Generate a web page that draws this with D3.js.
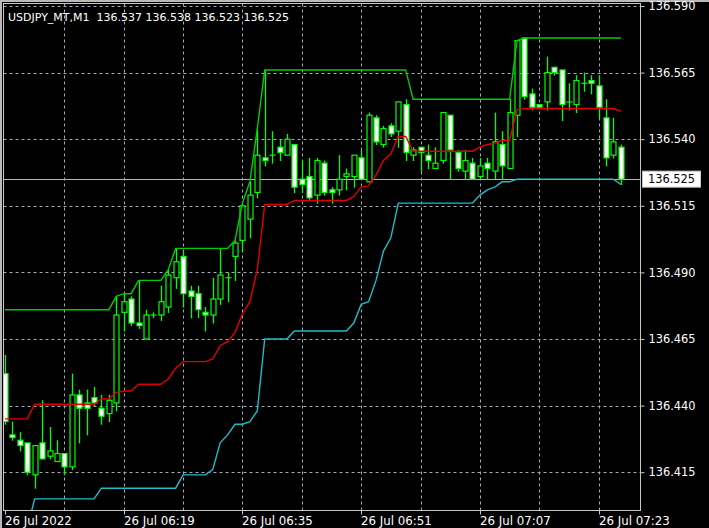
<!DOCTYPE html>
<html><head><meta charset="utf-8">
<script src="https://cdn.jsdelivr.net/npm/d3@7"></script>
<style>html,body{margin:0;padding:0;background:#000;overflow:hidden}svg{display:block}</style>
</head><body><svg id="c" width="709" height="528"></svg>
<script>
// ---------- DATA ----------
const symbolTitle = "USDJPY_MT,M1";
const titleQuote = ["136.537","136.538","136.523","136.525"];
const firstBar = new Date(2022, 6, 26, 6, 3);
const lastBar = new Date(2022, 6, 26, 7, 26);

const opens = [136.452,136.429,136.427,136.426,136.414,136.426,136.421,136.419,136.422,136.417,
136.444,136.441,136.443,136.439,136.437,136.441,136.475,136.480,136.471,136.465,
136.474,136.474,136.477,136.488,136.496,136.483,136.482,136.475,136.474,136.480,
136.488,136.496,136.502,136.510,136.520,136.533,136.534,136.537,136.534,136.538,
136.525,136.526,136.519,136.531,136.521,136.521,136.526,136.526,136.533,136.524,
136.548,136.538,136.545,136.543,136.553,136.534,136.537,136.534,136.529,136.532,
136.549,136.535,136.528,136.531,136.526,136.531,136.528,136.538,136.529,136.549,
136.578,136.557,136.553,136.554,136.567,136.566,136.554,136.553,136.561,136.562,
136.560,136.548,136.534,136.537];
const highs = [136.459,136.434,136.430,136.426,136.425,136.442,136.432,136.427,136.422,136.452,
136.446,136.446,136.447,136.444,136.444,136.481,136.482,136.481,136.487,136.476,
136.475,136.485,136.491,136.499,136.498,136.485,136.485,136.477,136.488,136.499,
136.490,136.502,136.516,136.524,136.544,136.566,136.543,136.540,136.542,136.538,
136.532,136.533,136.533,136.532,136.522,136.534,136.529,136.534,136.536,136.550,
136.549,136.545,136.546,136.554,136.555,136.537,136.537,136.538,136.537,136.550,
136.549,136.536,136.536,136.533,136.533,136.533,136.550,136.543,136.555,136.577,
136.578,136.559,136.553,136.571,136.567,136.566,136.561,136.564,136.565,136.564,
136.564,136.555,136.548,136.538];
const lows = [136.433,136.427,136.423,136.414,136.409,136.420,136.420,136.419,136.414,136.416,
136.426,136.429,136.440,136.433,136.434,136.438,136.468,136.470,136.469,136.465,
136.473,136.472,136.475,136.484,136.477,136.473,136.473,136.468,136.471,136.478,
136.479,136.487,136.498,136.503,136.518,136.530,136.531,136.532,136.534,136.520,
136.520,136.517,136.516,136.519,136.516,136.519,136.521,136.522,136.525,136.524,
136.538,136.537,136.541,136.537,136.532,136.532,136.528,136.529,136.529,136.531,
136.525,136.528,136.525,136.525,136.525,136.525,136.525,136.525,136.529,136.541,
136.555,136.551,136.552,136.551,136.564,136.547,136.551,136.550,136.558,136.557,
136.548,136.530,136.533,136.523];
const closes = [136.434,136.428,136.425,136.415,136.425,136.420,136.423,136.422,136.417,136.444,
136.439,136.439,136.441,136.436,136.442,136.474,136.479,136.471,136.470,136.474,
136.474,136.479,136.489,136.494,136.482,136.481,136.476,136.474,136.480,136.489,
136.488,136.501,136.515,136.519,136.534,136.532,136.534,136.535,136.540,136.522,
136.523,136.518,136.532,136.520,136.520,136.525,136.527,136.534,136.525,136.549,
136.539,136.544,136.542,136.554,136.535,136.536,136.535,136.532,136.531,136.550,
136.536,136.529,136.532,136.525,136.530,136.529,136.539,136.530,136.550,136.577,
136.556,136.552,136.552,136.565,136.565,136.553,136.554,136.562,136.561,136.561,
136.552,136.533,136.539,136.525];

const upperBand = [136.476,136.476,136.476,136.476,136.476,136.476,136.476,136.476,136.476,136.476,
136.476,136.476,136.476,136.476,136.476,136.481,136.482,136.482,136.487,136.487,
136.487,136.487,136.491,136.499,136.499,136.499,136.499,136.499,136.499,136.499,
136.499,136.502,136.516,136.524,136.544,136.566,136.566,136.566,136.566,136.566,
136.566,136.566,136.566,136.566,136.566,136.566,136.566,136.566,136.566,136.566,
136.566,136.566,136.566,136.566,136.566,136.555,136.555,136.555,136.555,136.555,
136.555,136.555,136.555,136.555,136.555,136.555,136.555,136.555,136.555,136.577,
136.578,136.578,136.578,136.578,136.578,136.578,136.578,136.578,136.578,136.578,
136.578,136.578,136.578,136.578];
const middleBand = [136.435,136.435,136.435,136.435,136.4405,136.4405,136.4405,136.4405,136.4405,136.4405,
136.4405,136.4405,136.4405,136.4425,136.4425,136.445,136.4455,136.4455,136.448,136.448,
136.448,136.448,136.450,136.454,136.4565,136.4565,136.4565,136.4565,136.4575,136.4625,
136.464,136.4675,136.4745,136.479,136.491,136.5155,136.5155,136.5155,136.5155,136.517,
136.517,136.517,136.517,136.517,136.517,136.517,136.517,136.5185,136.522,136.5225,
136.5265,136.532,136.5345,136.541,136.541,136.5355,136.5355,136.5355,136.5355,136.5355,
136.5355,136.5355,136.5355,136.5355,136.537,136.538,136.5385,136.5395,136.5395,136.551,
136.5515,136.5515,136.5515,136.5515,136.5515,136.5515,136.5515,136.5515,136.5515,136.5515,
136.5515,136.5515,136.5515,136.5505];
const lowerBand = [136.394,136.394,136.394,136.394,136.405,136.405,136.405,136.405,136.405,136.405,
136.405,136.405,136.405,136.409,136.409,136.409,136.409,136.409,136.409,136.409,
136.409,136.409,136.409,136.409,136.414,136.414,136.414,136.414,136.416,136.426,
136.429,136.433,136.433,136.434,136.438,136.465,136.465,136.465,136.465,136.468,
136.468,136.468,136.468,136.468,136.468,136.468,136.468,136.471,136.478,136.479,
136.487,136.498,136.503,136.516,136.516,136.516,136.516,136.516,136.516,136.516,
136.516,136.516,136.516,136.516,136.519,136.521,136.522,136.524,136.524,136.525,
136.525,136.525,136.525,136.525,136.525,136.525,136.525,136.525,136.525,136.525,
136.525,136.525,136.525,136.523];

const priceTicks = [136.590,136.565,136.540,136.515,136.490,136.465,136.440,136.415];
const priceTickLabels = ["136.590","136.565","136.540","136.515","136.490","136.465","136.440","136.415"];
const currentPrice = 136.525;
const currentPriceLabel = "136.525";
const timeLabelTimes = ["06:03","06:19","06:35","06:51","07:07","07:23"];
const timeLabels = ["26 Jul 2022","26 Jul 06:19","26 Jul 06:35","26 Jul 06:51","26 Jul 07:07","26 Jul 07:23"];
const timeGrid = ["06:11","06:19","06:27","06:35","06:43","06:51","06:59","07:07","07:15","07:23"];

// ---------- DRAW ----------
const times = d3.timeMinute.range(firstBar, new Date(+lastBar + 60000));
const bars = times.map((t,i)=>({t, o:opens[i], h:highs[i], l:lows[i], c:closes[i]}));
const parseHM = s => { const [h,m]=s.split(":").map(Number); return new Date(2022,6,26,h,m); };

const svg = d3.select("#c");
const frame = {left:3.5, top:3.5, right:640.5, bottom:510.5};
const x = d3.scaleTime().domain([firstBar, lastBar]).range([5, 620.9]);
const y = d3.scaleLinear().domain([136.590, 136.415]).range([6, 472.2]);
const font = "'DejaVu Sans', Verdana, sans-serif";

svg.append("rect").attr("width",709).attr("height",528).attr("fill","#000");
svg.append("rect").attr("x",0).attr("y",0).attr("width",709).attr("height",2).attr("fill","#b8b8b8");
svg.append("rect").attr("x",0).attr("y",0).attr("width",2).attr("height",528).attr("fill","#b8b8b8");

svg.append("clipPath").attr("id","pc").append("rect")
  .attr("x",frame.left+0.5).attr("y",frame.top+0.5)
  .attr("width",frame.right-frame.left-1).attr("height",frame.bottom-frame.top-1);

const gridColor = "#a3abb5";
const g = svg.append("g").attr("clip-path","url(#pc)");
g.selectAll("line.hg").data(priceTicks).join("line").attr("class","hg")
  .attr("x1",frame.left).attr("x2",frame.right)
  .attr("y1",d=>Math.round(y(d))+0.5).attr("y2",d=>Math.round(y(d))+0.5)
  .attr("stroke",gridColor).attr("stroke-width",1).attr("stroke-dasharray","3,3");
g.selectAll("line.vg").data(timeGrid).join("line").attr("class","vg")
  .attr("x1",d=>Math.round(x(parseHM(d)))+0.5).attr("x2",d=>Math.round(x(parseHM(d)))+0.5)
  .attr("y1",frame.top).attr("y2",frame.bottom)
  .attr("stroke",gridColor).attr("stroke-width",1).attr("stroke-dasharray","3,3");
g.append("line").attr("x1",frame.left).attr("x2",frame.right)
  .attr("y1",Math.round(y(currentPrice))+0.5).attr("y2",Math.round(y(currentPrice))+0.5)
  .attr("stroke","#b4b4b4").attr("stroke-width",1);

const candleColor = "#00ff00";
const cg = g.append("g");
const cx = d => Math.round(x(d.t)) + 0.5;
cg.selectAll("line.wick").data(bars).join("line").attr("class","wick")
  .attr("x1",cx).attr("x2",cx)
  .attr("y1",d=>y(d.h)).attr("y2",d=>y(d.l)+0.5)
  .attr("stroke",candleColor).attr("stroke-width",1.3);
cg.selectAll("rect.body").data(bars.filter(d=>d.o!==d.c)).join("rect").attr("class","body")
  .attr("x",d=>cx(d)-2.5).attr("width",5)
  .attr("y",d=>y(Math.max(d.o,d.c)))
  .attr("height",d=>Math.max(1,y(Math.min(d.o,d.c))-y(Math.max(d.o,d.c))))
  .attr("fill",d=>d.c>d.o?"#000":"#fff")
  .attr("stroke",candleColor).attr("stroke-width",1.2);
cg.selectAll("line.doji").data(bars.filter(d=>d.o===d.c)).join("line").attr("class","doji")
  .attr("x1",d=>cx(d)-3).attr("x2",d=>cx(d)+3)
  .attr("y1",d=>y(d.o)).attr("y2",d=>y(d.o))
  .attr("stroke",candleColor).attr("stroke-width",1.2);

const lineGen = d3.line().x((d,i)=>x(times[i])).y(d=>y(d));
g.append("path").datum(lowerBand).attr("d",lineGen).attr("fill","none")
  .attr("stroke","#1fbcc6").attr("stroke-width",1.4);
g.append("path").datum(middleBand).attr("d",lineGen).attr("fill","none")
  .attr("stroke","#e00000").attr("stroke-width",1.4);
g.append("path").datum(upperBand).attr("d",lineGen).attr("fill","none")
  .attr("stroke","#00cc00").attr("stroke-width",1.4);

svg.append("rect").attr("x",frame.left).attr("y",frame.top)
  .attr("width",frame.right-frame.left).attr("height",frame.bottom-frame.top)
  .attr("fill","none").attr("stroke","#c8c8c8").attr("stroke-width",1);

const yAxis = d3.axisRight(y).tickValues(priceTicks).tickFormat((d,i)=>priceTickLabels[i]).tickSize(4).tickPadding(4);
const ya = svg.append("g").attr("transform",`translate(${frame.right},0)`).call(yAxis);
ya.select(".domain").remove();
ya.selectAll(".tick line").attr("stroke","#c8c8c8");
ya.selectAll(".tick text").attr("fill","#fff").style("font-family",font).style("font-size","11.4px");

const cpY = y(currentPrice);
svg.append("rect").attr("x",642.5).attr("y",cpY-8).attr("width",58).attr("height",16)
  .attr("fill","#fff").attr("stroke","#c8c8c8");
svg.append("text").attr("x",648).attr("y",cpY+4).text(currentPriceLabel)
  .attr("fill","#000").style("font-family",font).style("font-size","11.4px");

const xTimes = timeLabelTimes.map(parseHM);
const xa = svg.append("g");
xa.selectAll("line").data(xTimes).join("line")
  .attr("x1",d=>Math.round(x(d))+0.5).attr("x2",d=>Math.round(x(d))+0.5)
  .attr("y1",frame.bottom).attr("y2",frame.bottom+4)
  .attr("stroke","#c8c8c8");
xa.selectAll("text").data(xTimes).join("text")
  .attr("x",d=>Math.round(x(d))).attr("y",525)
  .text((d,i)=>timeLabels[i])
  .attr("fill","#fff").style("font-family",font).style("font-size","11.8px");

svg.append("text").attr("x",8).attr("y",21).style("white-space","pre")
  .attr("fill","#fff").style("font-family",font).style("font-size","11px")
  .text(symbolTitle + "  " + titleQuote.join(" "));
</script></body></html>
